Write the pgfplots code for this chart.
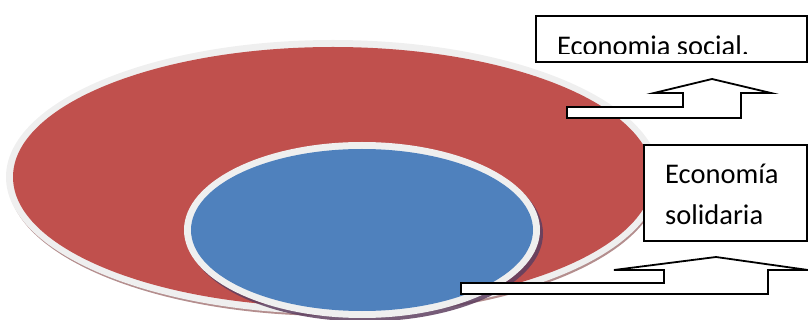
\documentclass[border=0pt]{standalone}
\usepackage{pgfplots}
\pgfplotsset{compat=1.18}
\usepackage{fontspec}
\setmainfont{Carlito}

\definecolor{ringred}{HTML}{C0504D}
\definecolor{coreblue}{HTML}{4F81BD}
\definecolor{rimgrey}{HTML}{EFEFEF}
\definecolor{outshadow}{HTML}{B48E8E}
\definecolor{inshadow}{HTML}{5E3F60}

\begin{document}
\begin{tikzpicture}
\begin{axis}[
  width=808pt, height=320pt, scale only axis,
  xmin=0, xmax=808, ymin=0, ymax=320,
  y dir=reverse, hide axis,
]
% outer disc: soft shadow, white rim, red face
\fill[outshadow] (axis cs:334,180) ellipse [x radius=326, y radius=136];
\fill[rimgrey] (axis cs:333,177) ellipse [x radius=327, y radius=137];
\fill[ringred] (axis cs:333,177) ellipse [x radius=320, y radius=130];
% inner disc: dark shadow, white rim, blue face
\fill[inshadow, opacity=0.85] (axis cs:365,233.5) ellipse [x radius=178, y radius=88];
\fill[rimgrey] (axis cs:362,230) ellipse [x radius=178, y radius=88];
\fill[coreblue] (axis cs:362,230) ellipse [x radius=171, y radius=81];

% arrow pointing up to the upper label
\addplot[draw=black, line width=1.8pt, fill=white] coordinates {
  (567,107) (683,107) (683,93) (654,93) (712,79) (771,93)
  (741,93) (741,118) (567,118)} --cycle;
% arrow pointing up to the lower label
\addplot[draw=black, line width=1.8pt, fill=white] coordinates {
  (461,283) (664,283) (664,270) (614,270) (716,257) (808,270)
  (768,270) (768,294) (461,294)} --cycle;

% upper label box
\addplot[draw=black, line width=1.8pt, fill=white] coordinates {
  (536,16) (807,16) (807,62) (536,62)} --cycle;
\node[anchor=base west, inner sep=0pt] at (axis cs:557,55.5)
  {\fontsize{28.5}{34}\selectfont Economia social.};
\fill[white] (axis cs:537.5,54) rectangle (axis cs:805.5,60.5);

% lower label box
\addplot[draw=black, line width=1.8pt, fill=white] coordinates {
  (644,145) (807,145) (807,241) (644,241)} --cycle;
\node[anchor=base west, inner sep=0pt] at (axis cs:665,184)
  {\fontsize{28.5}{34}\selectfont Economía};
\node[anchor=base west, inner sep=0pt] at (axis cs:665,224.5)
  {\fontsize{28.5}{34}\selectfont solidaria};
\end{axis}
\pgfresetboundingbox
\path[use as bounding box] (current axis.south west) rectangle (current axis.north east);
\end{tikzpicture}
\end{document}
